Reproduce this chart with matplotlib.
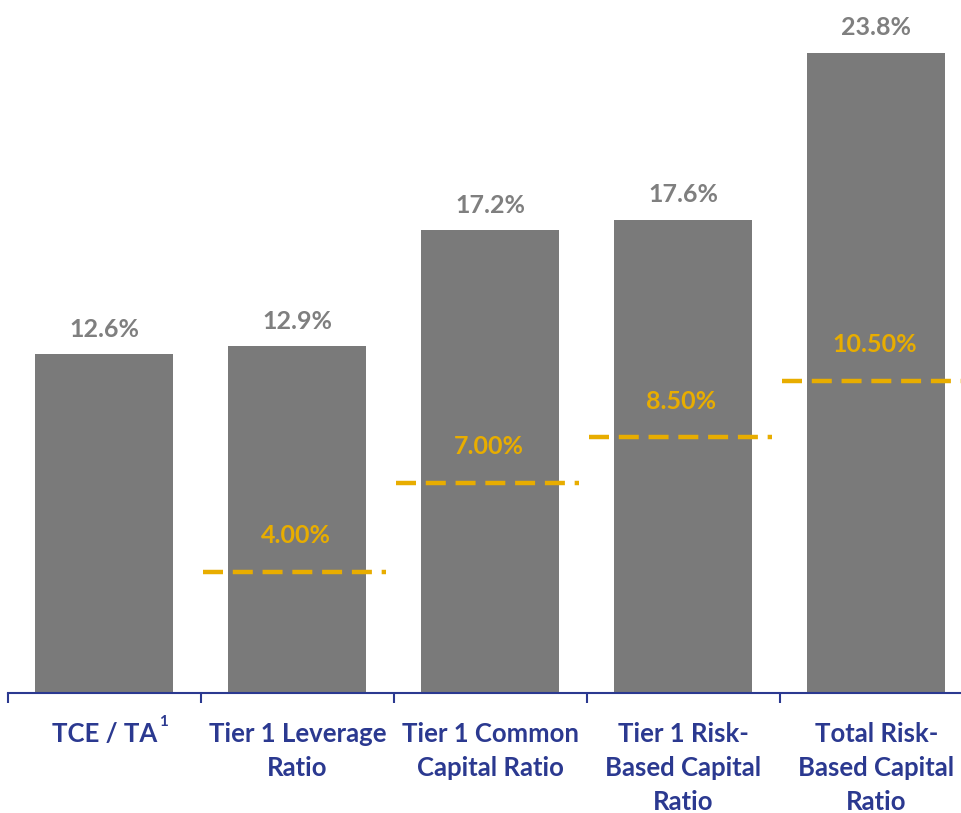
import matplotlib.pyplot as plt
from matplotlib.ticker import FixedLocator

categories = ['TCE / TA', 'Tier 1 Leverage\nRatio', 'Tier 1 Common\nCapital Ratio',
              'Tier 1 Risk-\nBased Capital\nRatio', 'Total Risk-\nBased Capital\nRatio']
ratios = [12.6, 12.9, 17.2, 17.6, 23.8]
# well-capitalized minimums (label text) and where the dashed line is drawn in the picture
min_labels = ['4.00%', '7.00%', '8.50%', '10.50%']
min_levels = [4.5, 7.8, 9.5, 11.6]
min_cats = [1, 2, 3, 4]

bar_color = '#7a7a7a'
gold = '#e8ad00'
blue = '#2b3990'
gray_txt = '#7f7f7f'

plt.rcParams['font.family'] = ['Lato', 'DejaVu Sans']

fig = plt.figure(figsize=(9.61, 8.13), dpi=100)
ax = fig.add_axes([8 / 961, 120 / 813, 959 / 961, 693 / 813])

x = list(range(len(categories)))
ax.bar(x, ratios, width=0.715, color=bar_color, zorder=2)
for i, v in zip(x, ratios):
    ax.text(i, v + 0.5, f'{v:.1f}%', ha='center', va='bottom', fontsize=18,
            fontweight='bold', color=gray_txt)

for c, lvl, lab in zip(min_cats, min_levels, min_labels):
    ax.plot([c - 0.49, c + 0.46], [lvl, lvl], color=gold, lw=3.2,
            dashes=(4.5, 2.2), zorder=3, solid_capstyle='butt')
    ax.text(c - 0.01, lvl + 0.92, lab, ha='center', va='bottom', fontsize=18,
            fontweight='bold', color=gold, zorder=4)

ax.set_xlim(-0.5, 4.47)
ax.set_ylim(0, 25.76)
ax.set_yticks([])
for s in ['top', 'right', 'left']:
    ax.spines[s].set_visible(False)
ax.spines['bottom'].set_color(blue)
ax.spines['bottom'].set_linewidth(1.5)

ax.set_xticks(x)
ax.set_xticklabels(categories, fontsize=18.5, fontweight='bold', color=blue,
                   linespacing=1.5)
ax.tick_params(axis='x', which='major', length=0, pad=21)
ax.xaxis.set_minor_locator(FixedLocator([-0.5, 0.5, 1.5, 2.5, 3.5]))
ax.tick_params(axis='x', which='minor', length=7, width=1.5, color=blue)

# superscript footnote marker on the first label
ax.text(0.307, -0.042, '1', transform=ax.get_xaxis_transform(), fontsize=11,
        fontweight='bold', color=blue, ha='center', va='center')

fig.savefig('out.png', dpi=100)
